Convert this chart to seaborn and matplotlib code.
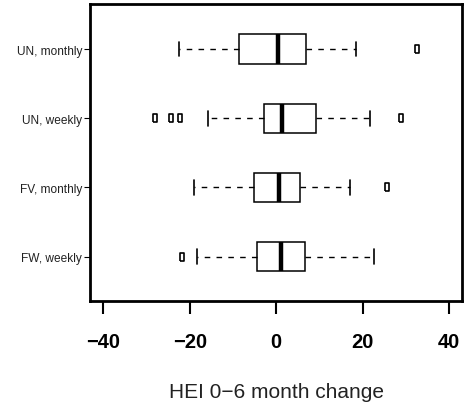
import numpy as np
import pandas as pd
import matplotlib
matplotlib.use("Agg")
import matplotlib.pyplot as plt
import seaborn as sns

# values (box stats per group)
groups = ["UN, monthly", "UN, weekly", "FV, monthly", "FW, weekly"]
whisker_lo = [-22.5, -15.8, -19.0, -18.4]
q1 = [-8.6, -2.9, -5.2, -4.5]
median = [0.4, 1.4, 0.6, 1.2]
q3 = [6.9, 9.2, 5.6, 6.6]
whisker_hi = [18.4, 21.7, 17.0, 22.7]
outliers_lo = [[], [-28.0, -24.4, -22.3], [], [-21.7]]
outliers_hi = [[32.5], [28.8], [25.7], []]

# build a 21-point sample per group whose quartiles/whiskers equal the stats above
k = 5
rows = []
for i, g in enumerate(groups):
    low = outliers_lo[i] + [whisker_lo[i]]
    low = low + [q1[i]] * (k - len(low))
    high = [whisker_hi[i]] + outliers_hi[i]
    high = [q3[i]] * (k - len(high)) + high
    vals = low + [q1[i]] + [median[i]] * (2 * k - 1) + [q3[i]] + high
    rows += [(g, v) for v in vals]
df = pd.DataFrame(rows, columns=["group", "change"])

sns.set_style("white")
plt.rcParams["font.family"] = ["Liberation Sans", "DejaVu Sans"]

fig, ax = plt.subplots(figsize=(4.65, 4.10), dpi=100)
fig.subplots_adjust(left=90 / 465, right=462 / 465, top=1 - 5 / 410, bottom=1 - 302 / 410)

flier_marker = [(-0.45, -1), (0.45, -1), (0.45, 1), (-0.45, 1), (-0.45, -1)]
sns.boxplot(data=df, x="change", y="group", order=groups, orient="h",
            color="white", linecolor="black", linewidth=1, width=0.42,
            whis=1.5, fliersize=5.4, ax=ax,
            boxprops=dict(facecolor="white", edgecolor="black", linewidth=1.1),
            medianprops=dict(color="black", linewidth=3.2),
            whiskerprops=dict(color="black", linewidth=1, linestyle=(0, (4, 4.5))),
            capprops=dict(color="black", linewidth=1.2),
            flierprops=dict(marker=flier_marker, markerfacecolor="none",
                            markeredgecolor="black", markeredgewidth=1.2))

ax.set_xlim(-43.1, 43.0)
ax.set_ylim(3.64, -0.65)
ax.set_xticks([-40, -20, 0, 20, 40])
for s in ax.spines.values():
    s.set_visible(True)
    s.set_linewidth(2)
    s.set_color("black")

ax.tick_params(axis="x", direction="out", length=9.5, width=1.5, pad=13,
               labelsize=14.5, bottom=True, colors="black")
for t in ax.get_xticklabels():
    t.set_fontweight("bold")
ax.tick_params(axis="y", direction="out", length=4.5, width=0.8, pad=1,
               labelsize=8.6, left=True, colors="black")
for t in ax.get_yticklabels():
    t.set_color("#222222")

ax.set_ylabel("")
ax.set_xlabel("HEI 0\u22126 month change", fontsize=15, labelpad=22, color="#222222")

fig.savefig("out.png", dpi=100)
